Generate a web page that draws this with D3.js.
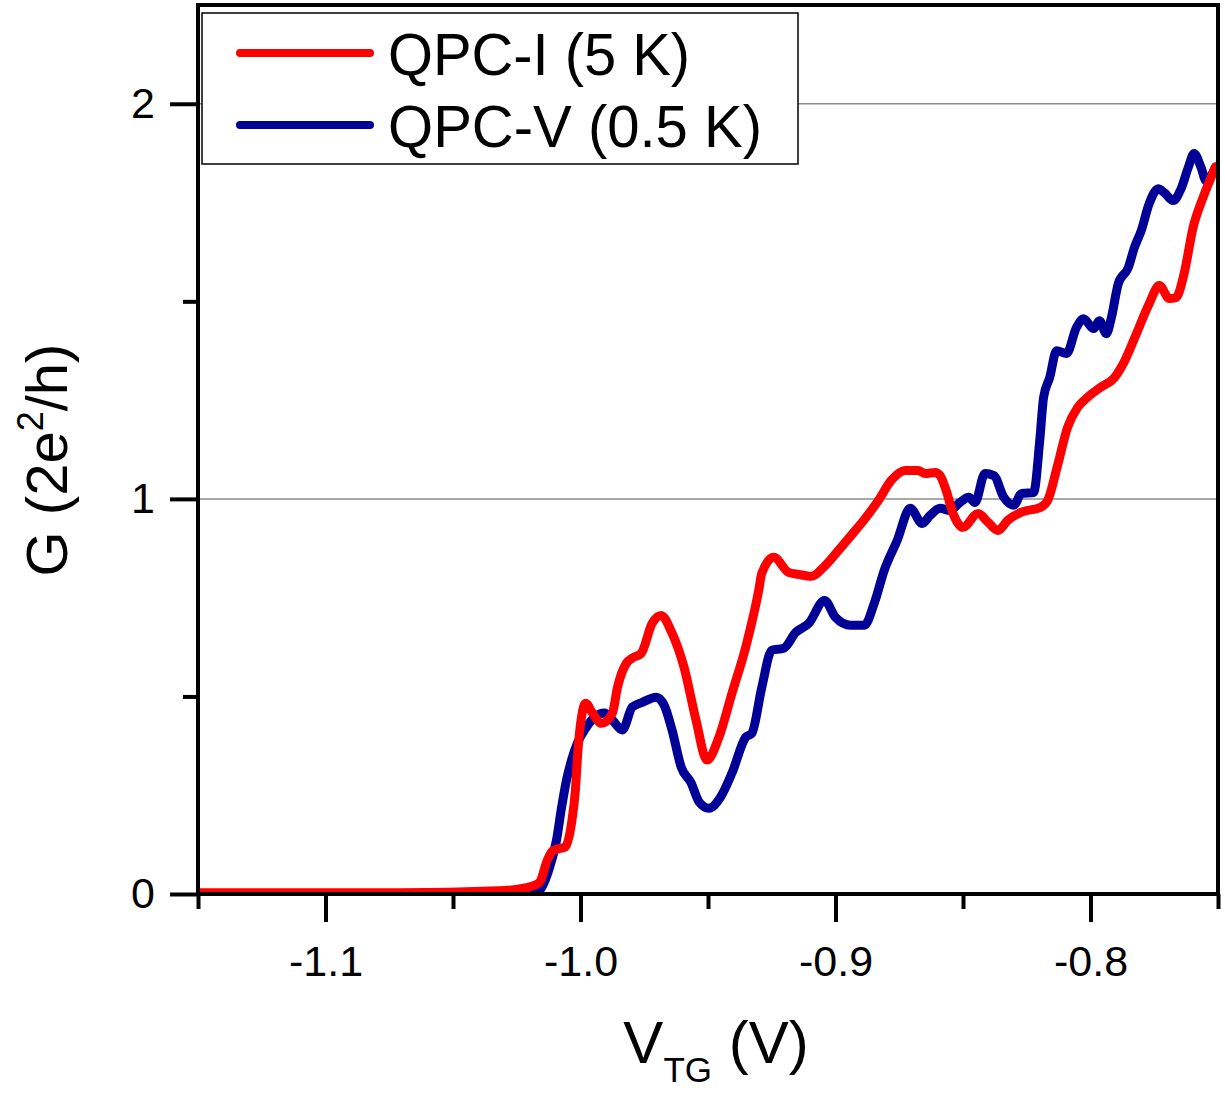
<!DOCTYPE html>
<html>
<head>
	<meta charset="utf-8">
	<script src="https://d3js.org/d3.v7.min.js"></script>
	<title>QPC conductance</title>
	<style>
		body { margin: 0; background: #fff; }
		text { font-family: "Liberation Sans", Arial, sans-serif; }
	</style>
</head>
<body>
	<div id="chart"></div>

	<script type="text/javascript">

		// QPC-I (5 K): gate voltage (V) and conductance (2e^2/h)
		var vI = [-1.150, -1.071, -1.032, -1.024, -1.019, -1.016, -1.013, -1.011, -1.009, -1.006,
			-1.0035, -1.002, -1.001, -0.9996, -0.998, -0.9953, -0.9918, -0.9875, -0.9855, -0.982,
			-0.9797, -0.9762, -0.9719, -0.9684, -0.9641, -0.9594, -0.9547, -0.9504, -0.9457, -0.9406,
			-0.9352, -0.9301, -0.9289, -0.9242, -0.9184, -0.9145, -0.9094, -0.9047, -0.8988, -0.8938,
			-0.8883, -0.8832, -0.8781, -0.8727, -0.8676, -0.8648, -0.8609, -0.8590, -0.8566, -0.8539,
			-0.8500, -0.8441, -0.8402, -0.8363, -0.8324, -0.8273, -0.8195, -0.8168, -0.8129, -0.8090,
			-0.8051, -0.8012, -0.7961, -0.7906, -0.7871, -0.7820, -0.7770, -0.7730, -0.7691, -0.7664,
			-0.7633, -0.7598, -0.7559, -0.7510];
		var gI = [0.003, 0.003, 0.008, 0.013, 0.020, 0.030, 0.086, 0.109, 0.114, 0.119,
			0.180, 0.263, 0.364, 0.448, 0.483, 0.458, 0.432, 0.458, 0.523, 0.584,
			0.597, 0.609, 0.685, 0.705, 0.660, 0.574, 0.440, 0.339, 0.397, 0.508,
			0.625, 0.769, 0.812, 0.852, 0.814, 0.809, 0.804, 0.827, 0.870, 0.908,
			0.951, 0.996, 1.047, 1.072, 1.072, 1.064, 1.067, 1.059, 1.021, 0.963,
			0.928, 0.963, 0.941, 0.920, 0.946, 0.966, 0.979, 0.996, 1.085, 1.181,
			1.231, 1.257, 1.282, 1.307, 1.343, 1.418, 1.494, 1.540, 1.507, 1.510,
			1.570, 1.686, 1.762, 1.840];

		// QPC-V (0.5 K)
		var vV = [-1.150, -1.020, -1.016, -1.0121, -1.0094, -1.0074, -1.0055, -1.0035, -1.0012, -0.9977,
			-0.9945, -0.9906, -0.9875, -0.9836, -0.9797, -0.9758, -0.9703, -0.9672, -0.9641, -0.9605,
			-0.9566, -0.9535, -0.9496, -0.9453, -0.9406, -0.9352, -0.9328, -0.9289, -0.9250, -0.9203,
			-0.9156, -0.9105, -0.9043, -0.9000, -0.8941, -0.8887, -0.8848, -0.8809, -0.8758, -0.8707,
			-0.8660, -0.8629, -0.8590, -0.8551, -0.8512, -0.8477, -0.8453, -0.8414, -0.8379, -0.8340,
			-0.8301, -0.8270, -0.8223, -0.8199, -0.8184, -0.8160, -0.8133, -0.8094, -0.8055, -0.8027,
			-0.7988, -0.7965, -0.7938, -0.7918, -0.7891, -0.7852, -0.7828, -0.7801, -0.7770, -0.7734,
			-0.7711, -0.7676, -0.7645, -0.7617, -0.7594, -0.7566, -0.7547, -0.7510];
		var gV = [0.000, 0.000, 0.010, 0.068, 0.137, 0.220, 0.288, 0.339, 0.382, 0.422,
			0.448, 0.458, 0.440, 0.415, 0.473, 0.485, 0.498, 0.478, 0.415, 0.321,
			0.281, 0.233, 0.217, 0.243, 0.306, 0.397, 0.407, 0.523, 0.617, 0.622,
			0.662, 0.685, 0.743, 0.700, 0.680, 0.680, 0.736, 0.819, 0.895, 0.976,
			0.938, 0.958, 0.976, 0.971, 0.991, 1.004, 0.991, 1.064, 1.059, 1.004,
			0.984, 1.014, 1.016, 1.148, 1.257, 1.307, 1.375, 1.368, 1.434, 1.456,
			1.431, 1.451, 1.418, 1.459, 1.545, 1.585, 1.636, 1.679, 1.747, 1.785,
			1.775, 1.755, 1.785, 1.838, 1.874, 1.838, 1.805, 1.840];

		var xMajor = [-1.1, -1.0, -0.9, -0.8];
		var xMinor = [-1.15, -1.05, -0.95, -0.85, -0.75];
		var yMajor = [0, 1, 2];
		var yMinor = [0.5, 1.5];
		var gridLines = [1, 2];
		var seriesNames = ["QPC-I (5 K)", "QPC-V (0.5 K)"];
		var seriesColors = ["#ff0000", "#000096"];

		var svgwidth = 1225;
		var svgheight = 1094;
		var plotLeft = 198, plotRight = 1218, plotTop = 5, plotBottom = 894;

		var svg = d3.select("#chart").append("svg")
			.attr("width", svgwidth)
			.attr("height", svgheight);

		var xScale = d3.scaleLinear()
			.domain([-1.15, -0.75])
			.range([plotLeft, plotRight]);

		var yScale = d3.scaleLinear()
			.domain([0, 2.25])
			.range([plotBottom, plotTop]);

		// grid lines at the conductance steps
		svg.selectAll("line.grid")
			.data(gridLines).enter().append("line")
			.attr("class", "grid")
			.attr("x1", plotLeft).attr("x2", plotRight)
			.attr("y1", function(d){ return yScale(d); })
			.attr("y2", function(d){ return yScale(d); })
			.attr("stroke", "#8c8c8c")
			.attr("stroke-width", 1.5);

		// curves
		var seriesData = [
			vI.map(function(v, i){ return [v, gI[i]]; }),
			vV.map(function(v, i){ return [v, gV[i]]; })
		];

		var line = d3.line()
			.x(function(d){ return xScale(d[0]); })
			.y(function(d){ return yScale(d[1]); })
			.curve(d3.curveMonotoneX);

		svg.append("defs").append("clipPath").attr("id", "plotclip")
			.append("rect")
			.attr("x", plotLeft).attr("y", plotTop)
			.attr("width", plotRight - plotLeft).attr("height", plotBottom - plotTop);

		// blue below, red on top
		[1, 0].forEach(function(k){
			svg.append("path")
				.datum(seriesData[k])
				.attr("clip-path", "url(#plotclip)")
				.attr("d", line)
				.attr("fill", "none")
				.attr("stroke", seriesColors[k])
				.attr("stroke-width", 9)
				.attr("stroke-linejoin", "round")
				.attr("stroke-linecap", "round");
		});

		// frame
		svg.append("rect")
			.attr("x", plotLeft).attr("y", plotTop)
			.attr("width", plotRight - plotLeft).attr("height", plotBottom - plotTop)
			.attr("fill", "none")
			.attr("stroke", "black")
			.attr("stroke-width", 4);

		// axes
		var xAxis = d3.axisBottom(xScale)
			.tickValues(xMajor)
			.tickSize(28)
			.tickPadding(23)
			.tickFormat(function(d){ return d.toFixed(1); });
		var xAxisMinor = d3.axisBottom(xScale)
			.tickValues(xMinor)
			.tickSize(15)
			.tickFormat("");
		var yAxis = d3.axisLeft(yScale)
			.tickValues(yMajor)
			.tickSize(28)
			.tickPadding(15)
			.tickFormat(function(d){ return d.toFixed(0); });
		var yAxisMinor = d3.axisLeft(yScale)
			.tickValues(yMinor)
			.tickSize(15)
			.tickFormat("");

		[[xAxis, "translate(0," + plotBottom + ")"], [xAxisMinor, "translate(0," + plotBottom + ")"],
		 [yAxis, "translate(" + plotLeft + ",0)"], [yAxisMinor, "translate(" + plotLeft + ",0)"]].forEach(function(a){
			var g = svg.append("g").attr("transform", a[1]).call(a[0]);
			g.select(".domain").remove();
			g.selectAll("line").attr("stroke", "black").attr("stroke-width", 4);
			g.selectAll("text")
				.attr("fill", "black")
				.attr("font-size", 43)
				.style("font-family", "'Liberation Sans', Arial, sans-serif");
		});

		// legend
		var legend = svg.append("g");
		legend.append("rect")
			.attr("x", 202).attr("y", 13)
			.attr("width", 596).attr("height", 151)
			.attr("fill", "white")
			.attr("stroke", "black")
			.attr("stroke-width", 1.5);

		var legendTextWidth = [302, 374];
		seriesNames.forEach(function(name, i){
			var ly = 53 + i * 72;
			legend.append("line")
				.attr("x1", 240).attr("x2", 370)
				.attr("y1", ly).attr("y2", ly)
				.attr("stroke", seriesColors[i])
				.attr("stroke-width", 8)
				.attr("stroke-linecap", "round");
			legend.append("text")
				.attr("x", 388).attr("y", ly + 22)
				.attr("font-size", 60)
				.attr("fill", "black")
				.attr("textLength", legendTextWidth[i])
				.attr("lengthAdjust", "spacingAndGlyphs")
				.text(name);
		});

		// axis titles
		var ytitle = svg.append("text")
			.attr("transform", "translate(67,460) rotate(-90)")
			.attr("text-anchor", "middle")
			.attr("font-size", 58)
			.attr("fill", "black");
		ytitle.append("tspan").text("G (2e");
		ytitle.append("tspan").attr("font-size", 36).attr("dy", -24).text("2");
		ytitle.append("tspan").attr("dy", 24).text("/h)");

		var xtitle = svg.append("text")
			.attr("x", 716).attr("y", 1063)
			.attr("text-anchor", "middle")
			.attr("font-size", 60)
			.attr("fill", "black");
		xtitle.append("tspan").text("V");
		xtitle.append("tspan").attr("font-size", 35).attr("dy", 19).text("TG");
		xtitle.append("tspan").attr("dy", -19).text(" (V)");

	</script>

</body>
</html>
